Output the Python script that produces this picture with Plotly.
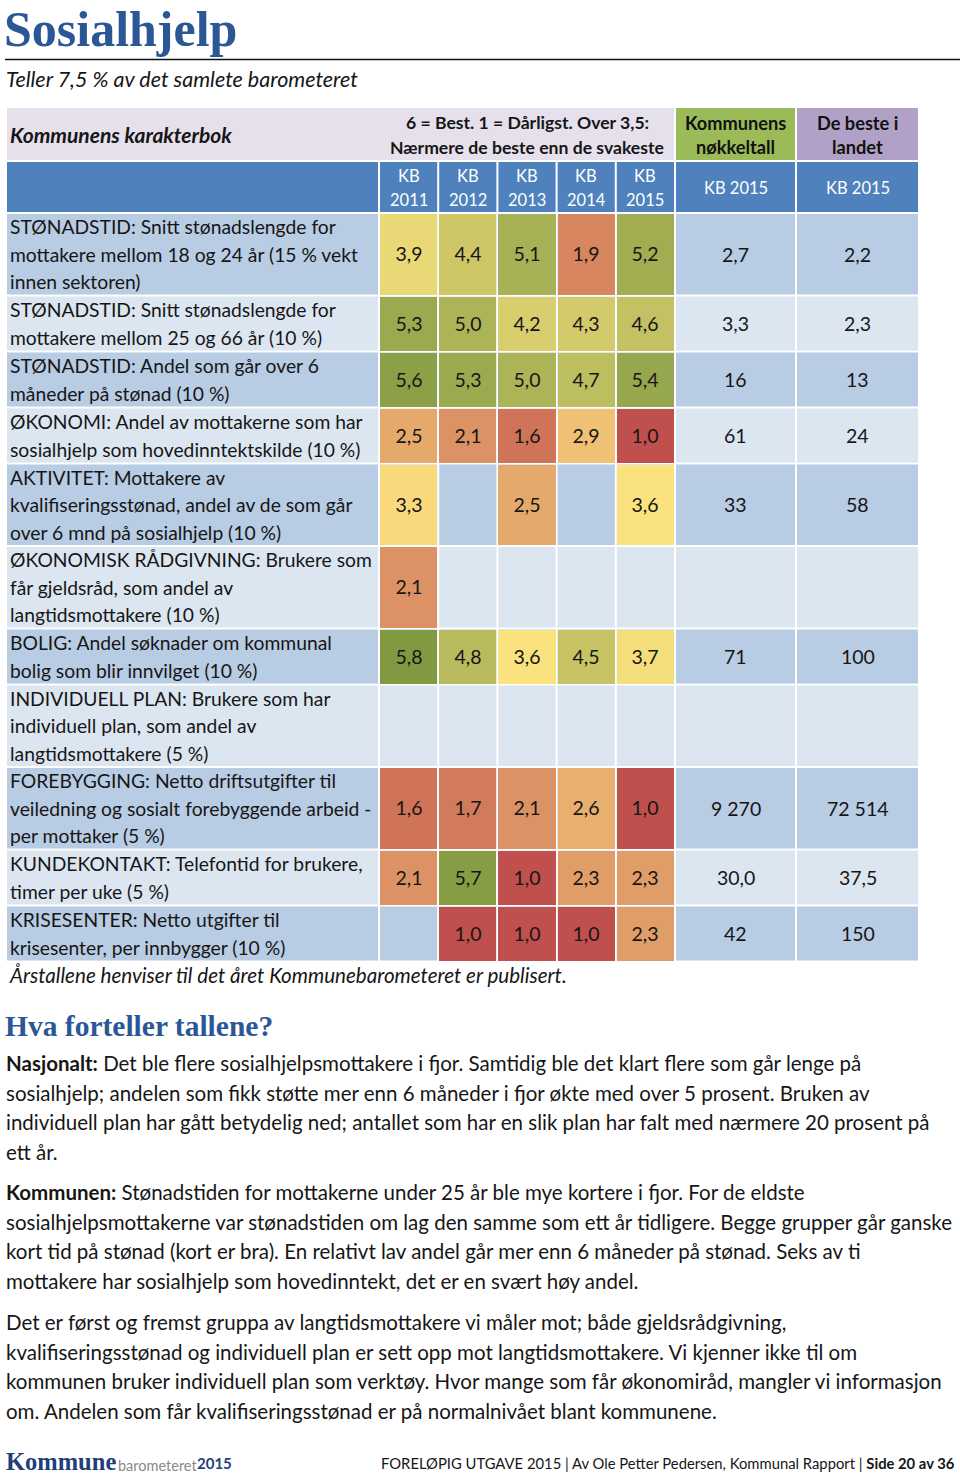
import plotly.graph_objects as go

W, H = 960, 1481

# ---------------- data ----------------
row_labels = [
    ["STØNADSTID: Snitt stønadslengde for", "mottakere mellom 18 og 24 år (15 % vekt", "innen sektoren)"],
    ["STØNADSTID: Snitt stønadslengde for", "mottakere mellom 25 og 66 år (10 %)"],
    ["STØNADSTID: Andel som går over 6", "måneder på stønad (10 %)"],
    ["ØKONOMI: Andel av mottakerne som har", "sosialhjelp som hovedinntektskilde (10 %)"],
    ["AKTIVITET: Mottakere av", "kvalifiseringsstønad, andel av de som går", "over 6 mnd på sosialhjelp (10 %)"],
    ["ØKONOMISK RÅDGIVNING: Brukere som", "får gjeldsråd, som andel av", "langtidsmottakere (10 %)"],
    ["BOLIG: Andel søknader om kommunal", "bolig som blir innvilget (10 %)"],
    ["INDIVIDUELL PLAN: Brukere som har", "individuell plan, som andel av", "langtidsmottakere (5 %)"],
    ["FOREBYGGING: Netto driftsutgifter til", "veiledning og sosialt forebyggende arbeid -", "per mottaker (5 %)"],
    ["KUNDEKONTAKT: Telefontid for brukere,", "timer per uke (5 %)"],
    ["KRISESENTER: Netto utgifter til", "krisesenter, per innbygger (10 %)"],
]
years = ["2011", "2012", "2013", "2014", "2015"]
score_2011 = [3.9, 5.3, 5.6, 2.5, 3.3, 2.1, 5.8, None, 1.6, 2.1, None]
score_2012 = [4.4, 5.0, 5.3, 2.1, None, None, 4.8, None, 1.7, 5.7, 1.0]
score_2013 = [5.1, 4.2, 5.0, 1.6, 2.5, None, 3.6, None, 2.1, 1.0, 1.0]
score_2014 = [1.9, 4.3, 4.7, 2.9, None, None, 4.5, None, 2.6, 2.3, 1.0]
score_2015 = [5.2, 4.6, 5.4, 1.0, 3.6, None, 3.7, None, 1.0, 2.3, 2.3]
key_figures_2015 = ["2,7", "3,3", "16", "61", "33", "", "71", "", "9 270", "30,0", "42"]
best_in_country_2015 = ["2,2", "2,3", "13", "24", "58", "", "100", "", "72 514", "37,5", "150"]

title = "Sosialhjelp"
subtitle = "Teller 7,5 % av det samlete barometeret"
footnote = "Årstallene henviser til det året Kommunebarometeret er publisert."
section_title = "Hva forteller tallene?"
paragraphs = [
    ["<b>Nasjonalt:</b> Det ble flere sosialhjelpsmottakere i fjor. Samtidig ble det klart flere som går lenge på",
     "sosialhjelp; andelen som fikk støtte mer enn 6 måneder i fjor økte med over 5 prosent. Bruken av",
     "individuell plan har gått betydelig ned; antallet som har en slik plan har falt med nærmere 20 prosent på",
     "ett år."],
    ["<b>Kommunen:</b> Stønadstiden for mottakerne under 25 år ble mye kortere i fjor. For de eldste",
     "sosialhjelpsmottakerne var stønadstiden om lag den samme som ett år tidligere. Begge grupper går ganske",
     "kort tid på stønad (kort er bra). En relativt lav andel går mer enn 6 måneder på stønad. Seks av ti",
     "mottakere har sosialhjelp som hovedinntekt, det er en svært høy andel."],
    ["Det er først og fremst gruppa av langtidsmottakere vi måler mot; både gjeldsrådgivning,",
     "kvalifiseringsstønad og individuell plan er sett opp mot langtidsmottakere. Vi kjenner ikke til om",
     "kommunen bruker individuell plan som verktøy. Hvor mange som får økonomiråd, mangler vi informasjon",
     "om. Andelen som får kvalifiseringsstønad er på normalnivået blant kommunene."],
]
footer_text = "FORELØPIG UTGAVE 2015 | Av Ole Petter Pedersen, Kommunal Rapport | <b>Side 20 av 36</b>"

# ---------------- layout constants ----------------
SANS = "Lato"
SERIF = "Liberation Serif"
BLUE_TITLE = "#2B5797"
HEAD_BLUE = "#4F81BD"
ROW_DARK = "#B8CCE4"
ROW_LIGHT = "#DCE6F1"
LAVENDER = "#E5E0EC"
GREEN = "#9BBB59"
PURPLE = "#B2A1C7"
TXT = "#161616"

X_L0, X_L1 = 6, 379
YEAR_W = 59.2
x_year_edges = [X_L1 + i * YEAR_W for i in range(6)]
X_KN1 = 796
X_BEST1 = 919
Y_H0, Y_H1, Y_H2 = 107, 161, 213
LINE_H = 27.3

y_edges = [Y_H2]
for lines in row_labels:
    y_edges.append(y_edges[-1] + 26.5 * len(lines) + 3)

shapes = []
annotations = []


def rect(x0, x1, y0, y1, color, inset=1):
    shapes.append(dict(type="rect", xref="x", yref="y", layer="below",
                       x0=x0 + inset, x1=x1 - inset, y0=y0 + inset, y1=y1 - inset,
                       fillcolor=color, line=dict(width=0)))


def text(x, y, s, size, color=TXT, family=SANS, xanchor="left", italic=False):
    if italic:
        s = "<i>" + s + "</i>"
    annotations.append(dict(x=x, y=y, xref="x", yref="y", text=s, showarrow=False,
                            xanchor=xanchor, yanchor="middle",
                            font=dict(size=size, color=color, family=family)))


# title
text(2, 29, "<b>" + title + "</b>", 50, BLUE_TITLE, SERIF)
shapes.append(dict(type="line", xref="x", yref="y", x0=5, x1=960, y0=59.5, y1=59.5,
                   line=dict(color="#111", width=1.5)))
text(4, 79, subtitle, 21.5, TXT, SANS, italic=True)

# header row 1
rect(X_L0, x_year_edges[-1], Y_H0, Y_H1, LAVENDER)
rect(x_year_edges[-1], X_KN1, Y_H0, Y_H1, GREEN)
rect(X_KN1, X_BEST1, Y_H0, Y_H1, PURPLE)
text(8, 134, "<b><i>Kommunens karakterbok</i></b>", 21)
mid_years = (x_year_edges[0] + x_year_edges[-1]) / 2
text(mid_years, 122, "<b>6 = Best. 1 = Dårligst. Over 3,5:</b>", 17.6, xanchor="center")
text(mid_years, 147, "<b>Nærmere de beste enn de svakeste</b>", 17.6, xanchor="center")
mid_kn = (x_year_edges[-1] + X_KN1) / 2
mid_best = (X_KN1 + X_BEST1) / 2
text(mid_kn, 123, "<b>Kommunens</b>", 18.2, "#111111", xanchor="center")
text(mid_kn, 147, "<b>nøkkeltall</b>", 18.2, "#111111", xanchor="center")
text(mid_best, 123, "<b>De beste i</b>", 18.2, "#111111", xanchor="center")
text(mid_best, 147, "<b>landet</b>", 18.2, "#111111", xanchor="center")

# header row 2
rect(X_L0, X_L1, Y_H1, Y_H2, HEAD_BLUE)
for i, yr in enumerate(years):
    rect(x_year_edges[i], x_year_edges[i + 1], Y_H1, Y_H2, HEAD_BLUE)
    cx = (x_year_edges[i] + x_year_edges[i + 1]) / 2
    text(cx, 176, "KB", 16.5, "white", xanchor="center")
    text(cx, 200, yr, 16.5, "white", xanchor="center")
rect(x_year_edges[-1], X_KN1, Y_H1, Y_H2, HEAD_BLUE)
rect(X_KN1, X_BEST1, Y_H1, Y_H2, HEAD_BLUE)
text(mid_kn, 188, "KB 2015", 16.5, "white", xanchor="center")
text(mid_best, 188, "KB 2015", 16.5, "white", xanchor="center")

# body rows
for r, lines in enumerate(row_labels):
    y0, y1 = y_edges[r], y_edges[r + 1]
    bg = ROW_DARK if r % 2 == 0 else ROW_LIGHT
    rect(X_L0, X_L1, y0, y1, bg)
    for i in range(5):
        rect(x_year_edges[i], x_year_edges[i + 1], y0, y1, bg)
    rect(x_year_edges[-1], X_KN1, y0, y1, bg)
    rect(X_KN1, X_BEST1, y0, y1, bg)
    cy = (y0 + y1) / 2
    n = len(lines)
    for k, ln in enumerate(lines):
        text(8, cy + (k - (n - 1) / 2) * LINE_H, ln, 19.3)
    text(mid_kn, cy, key_figures_2015[r], 19.5, xanchor="center")
    text(mid_best, cy, best_in_country_2015[r], 19.5, xanchor="center")

# score grid
cols = [score_2011, score_2012, score_2013, score_2014, score_2015]
z = [[cols[c][r] for c in range(5)] for r in range(len(row_labels))]
ztxt = [["" if v is None else f"{v:.1f}".replace(".", ",") for v in row] for row in z]
fig = go.Figure(go.Heatmap(
    x=x_year_edges, y=y_edges, z=z, text=ztxt, texttemplate="%{text}",
    textfont=dict(size=19.5, family=SANS, color=TXT),
    colorscale=[[0, "#C0504D"], [0.5, "#FFE581"], [1, "#76933C"]],
    zmin=1, zmax=6, showscale=False, xgap=2, ygap=2, hoverinfo="skip"))

text(7, 975, footnote, 20.6, TXT, SANS, italic=True)

# commentary
text(3, 1026, "<b>" + section_title + "</b>", 29.5, BLUE_TITLE, SERIF)
para_y = [1063, 1192, 1322]
for p, lines in enumerate(paragraphs):
    for k, ln in enumerate(lines):
        text(4, para_y[p] + k * 29.5, ln, 20.5)

# footer
text(4, 1461, "<b>Kommune</b>", 24.5, "#1F3F7A", SERIF)
text(116, 1465, "barometeret", 14.5, "#8A8A8A", SANS)
text(195, 1463, "<b>2015</b>", 15, "#1F3F7A", SANS)
text(379, 1463, footer_text, 14.8, TXT, SANS)

fig.update_layout(
    width=W, height=H, margin=dict(l=0, r=0, t=0, b=0),
    paper_bgcolor="white", plot_bgcolor="white",
    xaxis=dict(range=[0, W], visible=False, fixedrange=True),
    yaxis=dict(range=[H, 0], visible=False, fixedrange=True),
    shapes=shapes, annotations=annotations, showlegend=False,
)
fig.write_html("out.html", config={"displayModeBar": False},
               post_script="document.body.style.margin='0';")
